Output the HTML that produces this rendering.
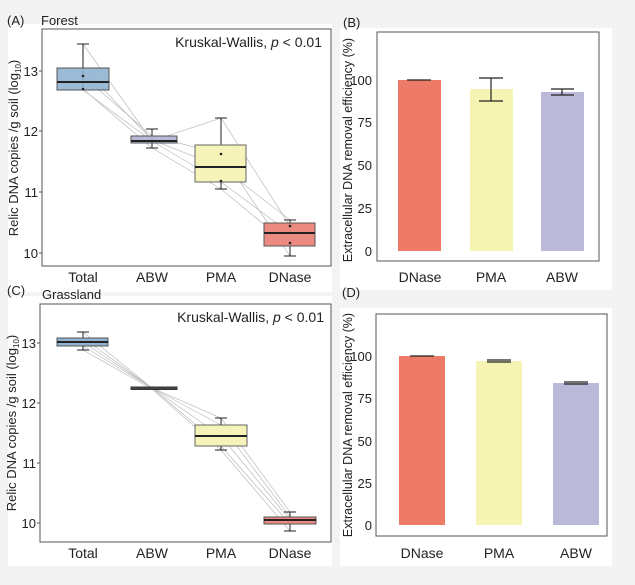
<!DOCTYPE html>
<html><head><meta charset="utf-8"><style>
html,body{margin:0;padding:0;background:#f3f3f3}
svg{display:block;font-family:"Liberation Sans",Arial,sans-serif}
</style></head><body>
<svg width="635" height="585" viewBox="0 0 635 585" xmlns="http://www.w3.org/2000/svg">
<rect width="635" height="585" fill="#f3f3f3"/>
<rect x="8" y="24" width="324" height="268" fill="#fff"/>
<rect x="340" y="28" width="272" height="262" fill="#fff"/>
<rect x="8" y="296" width="324" height="270" fill="#fff"/>
<rect x="340" y="308" width="272" height="258" fill="#fff"/>

<!-- Panel A -->
<text x="7" y="25" font-size="13" fill="#222">(A)</text>
<text x="41" y="25" font-size="13" fill="#222">Forest</text>
<g stroke="#bbb" stroke-width="0.7" fill="none">
<polyline points="83,44 152,141 221,118 290,226"/>
<polyline points="83,76 152,136 221,154 290,256"/>
<polyline points="83,90 152,141 221,182 290,233"/>
<polyline points="83,89 152,148 221,189 290,246"/>
<polyline points="83,68 152,140 221,167 290,220"/>
</g>
<rect x="42" y="29" width="289" height="237" fill="none" stroke="#555" stroke-width="1"/>
<g stroke="#222" stroke-width="1">
<line x1="83" y1="44" x2="83" y2="90"/><line x1="77" y1="44" x2="89" y2="44"/>
<line x1="152" y1="129" x2="152" y2="148"/><line x1="146" y1="129" x2="158" y2="129"/><line x1="146" y1="148" x2="158" y2="148"/>
<line x1="221" y1="118" x2="221" y2="189"/><line x1="215" y1="118" x2="227" y2="118"/><line x1="215" y1="189" x2="227" y2="189"/>
<line x1="290" y1="220" x2="290" y2="256"/><line x1="284" y1="220" x2="296" y2="220"/><line x1="284" y1="256" x2="296" y2="256"/>
</g>
<rect x="57" y="68" width="52" height="22" fill="#8fb3d0" fill-opacity="0.9" stroke="#555"/>
<line x1="57" y1="82" x2="109" y2="82" stroke="#222" stroke-width="2"/>
<rect x="131" y="136" width="46" height="7" fill="#b9b8d8" stroke="#555"/>
<line x1="131" y1="141" x2="177" y2="141" stroke="#222" stroke-width="2"/>
<rect x="195" y="145" width="51" height="37" fill="#f5f3b8" stroke="#666"/>
<line x1="195" y1="167" x2="246" y2="167" stroke="#222" stroke-width="2"/>
<rect x="264" y="223" width="51" height="23" fill="#eb8a80" stroke="#555"/>
<line x1="264" y1="233" x2="315" y2="233" stroke="#222" stroke-width="2"/>
<g fill="#222"><circle cx="83" cy="76" r="1.3"/><circle cx="83" cy="89" r="1.3"/><circle cx="221" cy="154" r="1.3"/><circle cx="221" cy="181" r="1.3"/><circle cx="290" cy="226" r="1.3"/><circle cx="290" cy="243" r="1.3"/><circle cx="152" cy="141" r="1.3"/></g>
<text x="322" y="47" font-size="14" fill="#222" text-anchor="end">Kruskal-Wallis, <tspan font-style="italic">p</tspan> &lt; 0.01</text>
<g font-size="13" fill="#222" text-anchor="end">
<text x="38" y="76">13</text><text x="38" y="136">12</text><text x="38" y="197">11</text><text x="38" y="258">10</text></g>
<g stroke="#555"><line x1="39" y1="71" x2="42" y2="71"/><line x1="39" y1="131" x2="42" y2="131"/><line x1="39" y1="192" x2="42" y2="192"/><line x1="39" y1="253" x2="42" y2="253"/></g>
<g font-size="14" fill="#222" text-anchor="middle">
<text x="83" y="282">Total</text><text x="152" y="282">ABW</text><text x="221" y="282">PMA</text><text x="290" y="282">DNase</text></g>
<text transform="translate(18,148) rotate(-90)" font-size="13" fill="#222" text-anchor="middle">Relic DNA copies /g soil (log<tspan font-size="8" dy="3">10</tspan><tspan dy="-3">)</tspan></text>

<!-- Panel B -->
<text x="343" y="27" font-size="13" fill="#222">(B)</text>
<rect x="377" y="32" width="222" height="229" fill="none" stroke="#555"/>
<rect x="398" y="80" width="43" height="171" fill="#ee7b68"/>
<rect x="470" y="89" width="43" height="162" fill="#f5f4b3"/>
<rect x="541" y="92" width="43" height="159" fill="#bbb9d9"/>
<g stroke="#222" stroke-width="1.2">
<line x1="407" y1="80" x2="431" y2="80"/>
<line x1="491" y1="78" x2="491" y2="101"/><line x1="479" y1="78" x2="503" y2="78"/><line x1="479" y1="101" x2="503" y2="101"/>
<line x1="562" y1="89" x2="562" y2="95"/><line x1="551" y1="89" x2="574" y2="89"/><line x1="551" y1="95" x2="574" y2="95"/>
</g>
<g font-size="13" fill="#222" text-anchor="end">
<text x="372" y="85">100</text><text x="372" y="127">75</text><text x="372" y="170">50</text><text x="372" y="213">25</text><text x="372" y="256">0</text></g>
<g font-size="14" fill="#222" text-anchor="middle">
<text x="420" y="282">DNase</text><text x="491" y="282">PMA</text><text x="562" y="282">ABW</text></g>
<text transform="translate(352,150) rotate(-90)" font-size="12.5" fill="#222" text-anchor="middle">Extracellular DNA removal efficiency (%)</text>

<!-- Panel C -->
<text x="7" y="295" font-size="13" fill="#222">(C)</text>
<text x="42" y="299" font-size="13" fill="#222">Grassland</text>
<g stroke="#bbb" stroke-width="0.7" fill="none">
<polyline points="83,332 152,388 221,418 290,512"/>
<polyline points="83,338 152,388 221,425 290,517"/>
<polyline points="83,342 152,388 221,436 290,520"/>
<polyline points="83,346 152,388 221,446 290,524"/>
<polyline points="83,350 152,389 221,450 290,531"/>
</g>
<rect x="40" y="304" width="291" height="238" fill="none" stroke="#555"/>
<g stroke="#222" stroke-width="1">
<line x1="83" y1="332" x2="83" y2="350"/><line x1="77" y1="332" x2="89" y2="332"/><line x1="77" y1="350" x2="89" y2="350"/>
<line x1="221" y1="418" x2="221" y2="450"/><line x1="215" y1="418" x2="227" y2="418"/><line x1="215" y1="450" x2="227" y2="450"/>
<line x1="290" y1="512" x2="290" y2="531"/><line x1="284" y1="512" x2="296" y2="512"/><line x1="284" y1="531" x2="296" y2="531"/>
</g>
<rect x="57" y="338" width="51" height="8" fill="#8fb3d0" stroke="#555"/>
<line x1="57" y1="342" x2="108" y2="342" stroke="#222" stroke-width="2"/>
<rect x="131" y="387" width="46" height="2.5" fill="#444" stroke="#333"/>
<rect x="195" y="425" width="52" height="21" fill="#f5f3b8" stroke="#666"/>
<line x1="195" y1="436" x2="247" y2="436" stroke="#222" stroke-width="2"/>
<rect x="264" y="517" width="52" height="7" fill="#eb8a80" stroke="#555"/>
<line x1="264" y1="520" x2="316" y2="520" stroke="#222" stroke-width="2"/>
<text x="324" y="322" font-size="14" fill="#222" text-anchor="end">Kruskal-Wallis, <tspan font-style="italic">p</tspan> &lt; 0.01</text>
<g font-size="13" fill="#222" text-anchor="end">
<text x="36" y="348">13</text><text x="36" y="408">12</text><text x="36" y="468">11</text><text x="36" y="528">10</text></g>
<g stroke="#555"><line x1="37" y1="343" x2="40" y2="343"/><line x1="37" y1="403" x2="40" y2="403"/><line x1="37" y1="463" x2="40" y2="463"/><line x1="37" y1="523" x2="40" y2="523"/></g>
<g font-size="14" fill="#222" text-anchor="middle">
<text x="83" y="558">Total</text><text x="152" y="558">ABW</text><text x="221" y="558">PMA</text><text x="290" y="558">DNase</text></g>
<text transform="translate(16,423) rotate(-90)" font-size="13" fill="#222" text-anchor="middle">Relic DNA copies /g soil (log<tspan font-size="8" dy="3">10</tspan><tspan dy="-3">)</tspan></text>

<!-- Panel D -->
<text x="342" y="297" font-size="13" fill="#222">(D)</text>
<rect x="376" y="314" width="231" height="222" fill="none" stroke="#555"/>
<rect x="399" y="356" width="46" height="169" fill="#ee7b68"/>
<rect x="476" y="361" width="46" height="164" fill="#f5f4b3"/>
<rect x="553" y="383" width="46" height="142" fill="#bbb9d9"/>
<g stroke="#222" stroke-width="1.2">
<line x1="410" y1="356" x2="434" y2="356"/>
<line x1="487" y1="360" x2="511" y2="360"/><line x1="487" y1="362" x2="511" y2="362"/>
<line x1="564" y1="382" x2="588" y2="382"/><line x1="564" y1="384" x2="588" y2="384"/>
</g>
<g font-size="13" fill="#222" text-anchor="end">
<text x="372" y="361">100</text><text x="372" y="403">75</text><text x="372" y="446">50</text><text x="372" y="488">25</text><text x="372" y="530">0</text></g>
<g font-size="14" fill="#222" text-anchor="middle">
<text x="422" y="558">DNase</text><text x="499" y="558">PMA</text><text x="576" y="558">ABW</text></g>
<text transform="translate(352,425) rotate(-90)" font-size="12.5" fill="#222" text-anchor="middle">Extracellular DNA removal efficiency (%)</text>
</svg>
</body></html>
